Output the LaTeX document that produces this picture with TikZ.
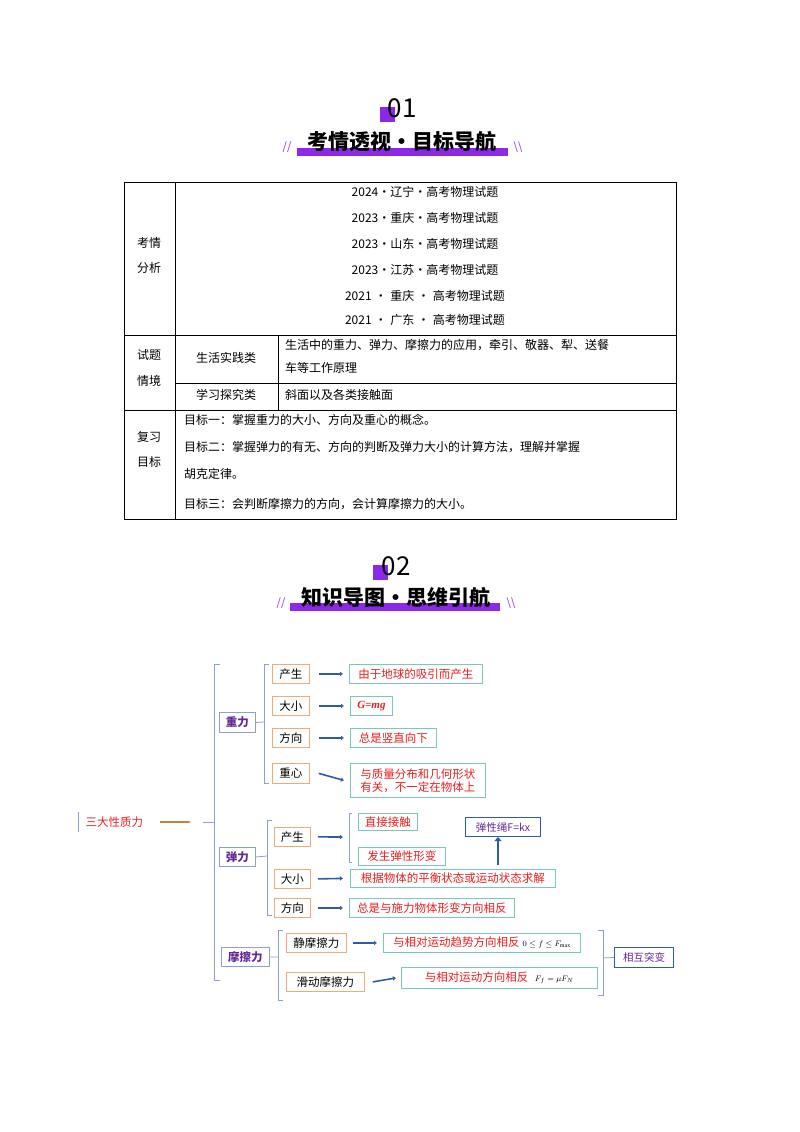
\documentclass[tikz,border=0pt]{standalone}
\usepackage{fontspec}
\setmainfont{Liberation Serif}
\newfontfamily\cjk{Noto Sans CJK SC}
\usetikzlibrary{arrows.meta}
\definecolor{pur}{RGB}{140,40,230}
\definecolor{lab}{RGB}{100,40,150}
\definecolor{rd}{RGB}{230,30,30}
\definecolor{org}{RGB}{240,170,120}
\definecolor{tl}{RGB}{120,200,190}
\definecolor{bl}{RGB}{50,90,170}
\definecolor{brk}{RGB}{140,160,210}
\tikzset{
 tx/.style={font=\cjk\fontsize{12}{14}\selectfont,inner sep=0pt},
 ob/.style={draw=org,line width=0.8pt,font=\cjk\fontsize{11.5}{13}\selectfont,inner sep=0pt,anchor=north west},
 gb/.style={draw=tl,line width=0.8pt,text=rd,font=\cjk\fontsize{11.5}{13}\selectfont,inner sep=0pt,anchor=north west},
 pb/.style={draw=brk,line width=0.9pt,text=lab,font=\cjk\bfseries\fontsize{11.5}{13}\selectfont,inner sep=0pt,anchor=north west},
 ar/.style={-{Latex[length=3pt,width=5pt]},bl,line width=1.6pt},
 br/.style={brk,line width=0.8pt},
 tl1/.style={line width=0.8pt}
}
\newcommand{\bx}[6]{\node[#1,minimum width=#4-#2,minimum height=#5-#3] (#6) at (#2,#3) {};}
\begin{document}
\begin{tikzpicture}[x=1pt,y=-1pt]
\useasboundingbox (0,0) rectangle (800,1132);
% header 1
\fill[pur] (380,107) rectangle (395,122);
\node[font=\fontfamily{}\sffamily\fontsize{26}{28}\selectfont] (h1n) at (402,108) {\cjk 01};
\fill[pur] (297,148) rectangle (508,156);
\node[font=\cjk\bfseries\fontsize{21}{24}\selectfont] (h1t) at (402,142) {考情透视·目标导航};
\node[pur,font=\cjk\fontsize{11}{12}\selectfont] (s1) at (287,147) {//};
\node[pur,font=\cjk\fontsize{11}{12}\selectfont] (s2) at (518,147) {\textbackslash\textbackslash};
% table
\draw[line width=0.8pt] (124,182) rectangle (676,519);
\draw[line width=0.8pt] (175,182)--(175,519) (124,335)--(676,335) (124,410)--(676,410) (175,383)--(676,383) (278,335)--(278,410);
\foreach \t/\y in {2024·辽宁·高考物理试题/192,2023·重庆·高考物理试题/218,2023·山东·高考物理试题/244,2023·江苏·高考物理试题/270,2021\;•\;重庆\;•\;高考物理试题/296,2021\;•\;广东\;•\;高考物理试题/320}
 \node[tx] at (425,\y) {\t};
\node[tx] (c1a) at (149,243) {考情};\node[tx] (c1b) at (149,268) {分析};
\node[tx] (c2a) at (149,355) {试题};\node[tx] (c2b) at (149,381) {情境};
\node[tx] (c3a) at (149,437) {复习};\node[tx] (c3b) at (149,462) {目标};
\node[tx] (r2a) at (226,358) {生活实践类};
\node[tx] (r2b) at (226,395) {学习探究类};
\node[tx,anchor=west] (r2c) at (285,345) {生活中的重力、弹力、摩擦力的应用，牵引、敬器、犁、送餐};
\node[tx,anchor=west] (r2d) at (285,368) {车等工作原理};
\node[tx,anchor=west] (r2e) at (285,395) {斜面以及各类接触面};
\node[tx,anchor=west] (g1) at (184,420) {目标一：掌握重力的大小、方向及重心的概念。};
\node[tx,anchor=west] (g2) at (184,447) {目标二：掌握弹力的有无、方向的判断及弹力大小的计算方法，理解并掌握};
\node[tx,anchor=west] (g3) at (184,474) {胡克定律。};
\node[tx,anchor=west] (g4) at (184,504) {目标三：会判断摩擦力的方向，会计算摩擦力的大小。};
% header 2
\fill[pur] (373,565) rectangle (388,580);
\node[font=\fontfamily{}\sffamily\fontsize{26}{28}\selectfont] (h2n) at (396,566) {\cjk 02};
\fill[pur] (290,603) rectangle (500,611);
\node[font=\cjk\bfseries\fontsize{21}{24}\selectfont] (h2t) at (396,598) {知识导图·思维引航};
\node[pur,font=\cjk\fontsize{11}{12}\selectfont] (s3) at (281,603) {//};
\node[pur,font=\cjk\fontsize{11}{12}\selectfont] (s4) at (511,603) {\textbackslash\textbackslash};
% mind map
\draw[brk,line width=0.8pt] (78,812)--(78,832);
\node[text=rd,font=\cjk\fontsize{11.5}{13}\selectfont,anchor=west] (root) at (82,822) {三大性质力};
\coordinate (ra) at (160,822);\coordinate (rb) at (191,822);
\draw[-{Latex[length=2pt]},brown!80!orange,line width=1.4pt] (ra)--(rb);
\draw[br] (220,664)--(214,664)--(214,980)--(220,980) (203,822)--(214,822);
\node[pb,minimum width=36,minimum height=20] (zl) at (219,712) {重力};
\node[pb,minimum width=36,minimum height=19] (tl) at (219,847) {弹力};
\node[pb,minimum width=48,minimum height=19] (ml) at (221,947) {摩擦力};
% gravity
\draw[br] (269,664)--(264,664)--(264,783)--(269,783);\draw[br] (zl.east)--(264,722);
\node[ob,minimum width=37,minimum height=19] (a1) at (272,664) {产生};
\node[ob,minimum width=37,minimum height=19] (a2) at (272,696) {大小};
\node[ob,minimum width=37,minimum height=19] (a3) at (272,728) {方向};
\node[ob,minimum width=37,minimum height=20] (a4) at (272,763) {重心};
\node[gb,minimum width=133,minimum height=19] (b1) at (349,664) {由于地球的吸引而产生};
\node[gb,minimum width=42,minimum height=19,font=\itshape\bfseries\fontsize{11}{13}\selectfont] (b2) at (350,696) {G=mg};
\node[gb,minimum width=86,minimum height=19] (b3) at (350,728) {总是竖直向下};
\node[gb,minimum width=135,minimum height=34,align=left] (b4) at (350,763) {与质量分布和几何形状\\有关，不一定在物体上};
\foreach \i in {1,...,4} \draw[ar] ([xshift=9pt]a\i.east)--([xshift=-6pt]b\i.west);
% elastic
\draw[br] (272,820)--(267,820)--(267,915)--(272,915);\draw[br] (tl.east)--(267,856);
\node[ob,minimum width=36,minimum height=19] (c1) at (274,827) {产生};
\node[ob,minimum width=36,minimum height=19] (c2) at (274,869) {大小};
\node[ob,minimum width=36,minimum height=19] (c3) at (274,898) {方向};
\draw[br] (352,813)--(349,813)--(349,862)--(352,862);
\coordinate (cb) at (343,837);
\draw[ar] ([xshift=7pt]c1.east)--(cb);
\node[gb,minimum width=59,minimum height=17] (d1) at (358,813) {直接接触};
\node[gb,minimum width=87,minimum height=18] (d2) at (358,847) {发生弹性形变};
\node[draw=bl,line width=1pt,text=lab,font=\cjk\fontsize{10.5}{12}\selectfont,inner sep=0pt,minimum width=75,minimum height=19,anchor=north west] (e1) at (465,817) {弹性绳\textit{F=kx}};
\coordinate (eb) at (498,865);
\draw[-{Triangle[length=4pt,width=7pt]},bl,line width=2.2pt] (eb)--(e1.south-|eb);
\node[gb,minimum width=205,minimum height=18] (d3) at (350,869) {根据物体的平衡状态或运动状态求解};
\node[gb,minimum width=165,minimum height=19] (d4) at (349,898) {总是与施力物体形变方向相反};
\draw[ar] ([xshift=7pt]c2.east)--([xshift=-7pt]d3.west);
\draw[ar] ([xshift=7pt]c3.east)--([xshift=-6pt]d4.west);
% friction
\draw[br] (283,930)--(278,930)--(278,1000)--(283,1000);\draw[br] (ml.east)--(278,957);
\node[ob,minimum width=60,minimum height=19] (f1) at (286,933) {静摩擦力};
\node[ob,minimum width=78,minimum height=19] (f2) at (286,972) {滑动摩擦力};
\node[gb,minimum width=197,minimum height=19] (g5) at (383,933) {与相对运动趋势方向相反\;{\color{black}\fontspec{Liberation Serif}\footnotesize$0\le f\le F_{\max}$}};
\node[gb,minimum width=196,minimum height=21] (g6) at (401,967) {与相对运动方向相反\;\;{\color{black}\fontspec{Liberation Serif}\footnotesize$F_f=\mu F_N$}};
\draw[ar] ([xshift=6pt]f1.east)--([xshift=-6pt]g5.west);
\draw[ar] ([xshift=8pt]f2.east)--([xshift=-5pt]g6.west);
\draw[br] (598,930)--(603,930)--(603,995)--(598,995);
\node[draw=bl,line width=1pt,text=lab,font=\cjk\fontsize{10.5}{12}\selectfont,inner sep=0pt,minimum width=59,minimum height=20,anchor=north west] (h) at (614,947) {相互突变};
\draw[br] (603,958)--(h.west);
\end{tikzpicture}
\end{document}
